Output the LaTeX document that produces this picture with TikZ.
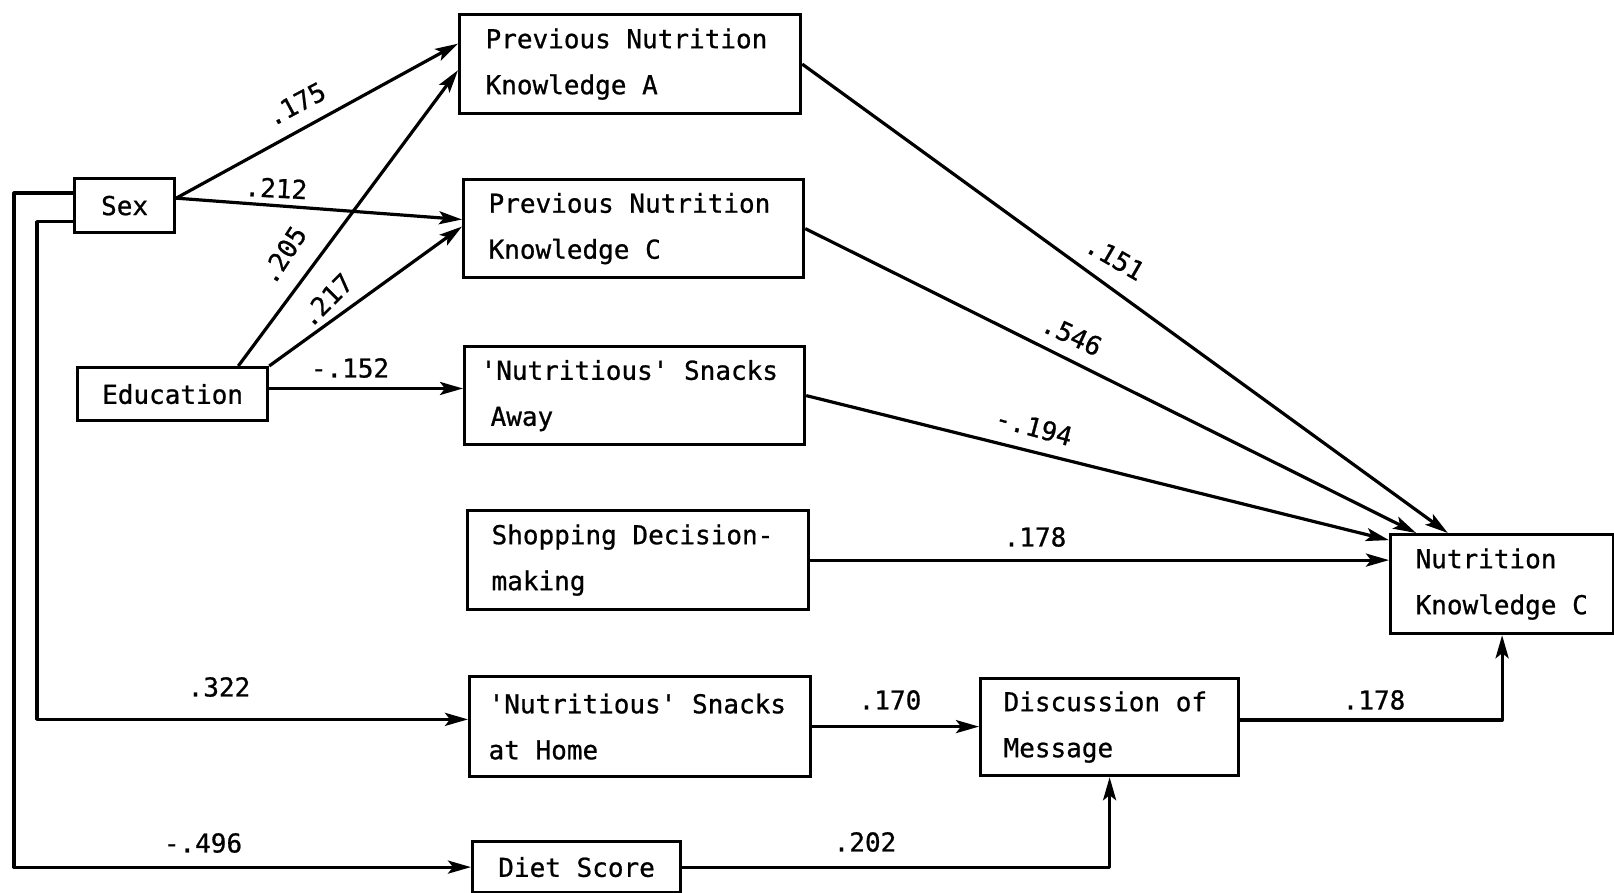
\documentclass[tikz,border=0pt]{standalone}
\usepackage{fontspec}
\newfontfamily\typefont[WordSpace={1,0,0},FakeBold=0.8]{DejaVu Sans Mono}
\usetikzlibrary{arrows.meta,calc}
\begin{document}
\begin{tikzpicture}[x=1pt,y=-1pt,
  txt/.style={font=\typefont\fontsize{26pt}{46pt}\selectfont},
  box/.style={txt, draw, line width=3.2pt, rectangle, anchor=north west,
    inner ysep=0pt},
  multi/.style={box, align=flush left},
  single/.style={box, align=center, inner xsep=0pt},
  lab/.style={txt, inner sep=0pt},
  conn/.style={line width=3.2pt, line join=round,
    -{Stealth[length=23pt,width=13pt,inset=5pt]}}]
\useasboundingbox (0,0) rectangle (1614,893);

% boxes
\node[single, minimum width=100pt, minimum height=54pt] (sex) at (73,177) {Sex};
\node[single, minimum width=190pt, minimum height=53pt] (edu) at (76,366) {Education};
\node[multi, minimum width=341pt, minimum height=99pt, inner xsep=26pt, text width=289pt]
  (pnka) at (458,13) {Previous Nutrition\\Knowledge A};
\node[multi, minimum width=340pt, minimum height=98pt, inner xsep=25pt, text width=290pt]
  (pnkc) at (462,178) {Previous Nutrition\\Knowledge C};
\node[multi, minimum width=340pt, minimum height=98pt, inner xsep=16pt, text width=308pt]
  (away) at (463,345) {\textquotesingle Nutritious\textquotesingle{} Snacks\\\hspace*{10pt}Away};
\node[multi, minimum width=341pt, minimum height=99pt, inner xsep=24pt, text width=293pt]
  (shop) at (466,509) {Shopping Decision-\\making};
\node[multi, minimum width=341pt, minimum height=100pt, inner xsep=19pt, text width=303pt]
  (home) at (468,675) {\textquotesingle Nutritious\textquotesingle{} Snacks\\at Home};
\node[multi, minimum width=258pt, minimum height=97pt, inner xsep=23pt, text width=212pt]
  (disc) at (979,677) {Discussion of\\Message};
\node[multi, minimum width=223pt, minimum height=99pt, inner xsep=25pt, text width=173pt]
  (nk) at (1389,533) {Nutrition\\Knowledge C};
\node[single, minimum width=208pt, minimum height=51pt] (diet) at (471,840) {Diet Score};

% attachment points
\coordinate (sexE) at ($(sex.north east)!0.37!(sex.south east)$);
\coordinate (sexW1) at ($(sex.north west)!0.28!(sex.south west)$);
\coordinate (sexW2) at ($(sex.north west)!0.78!(sex.south west)$);
\coordinate (eduN) at ($(edu.north west)!0.84!(edu.north east)$);
\coordinate (eduE) at ($(edu.north east)!0.40!(edu.south east)$);
\coordinate (homeW) at ($(home.north west)!0.43!(home.south west)$);
\coordinate (discE) at ($(disc.north east)!0.43!(disc.south east)$);
\coordinate (outerX) at (14,0);
\coordinate (innerX) at (37,0);

% connectors from the left
\draw[conn] (sexE) -- ($(pnka.north west)!0.30!(pnka.south west)$);
\draw[conn] (sexE) -- ($(pnkc.north west)!0.41!(pnkc.south west)$);
\draw[conn] (eduN) -- ($(pnka.north west)!0.56!(pnka.south west)$);
\draw[conn] (edu.north east) -- ($(pnkc.north west)!0.48!(pnkc.south west)$);
\draw[conn] (eduE) -- (eduE -| away.west);
\draw[conn] (sexW2) -- (sexW2 -| innerX) -- (innerX |- homeW) -- (homeW);
\draw[conn] (sexW1) -- (sexW1 -| outerX) -- (outerX |- diet.west) -- (diet.west);

% connectors to the outcome
\draw[conn] (pnka.east) -- ($(nk.north west)!0.26!(nk.north east)$);
\draw[conn] (pnkc.east) -- ($(nk.north west)!0.12!(nk.north east)$);
\draw[conn] (away.east) -- ($(nk.north west)!0.07!(nk.south west)$);
\draw[conn] (shop.east) -- (shop.east -| nk.west);
\draw[conn] (home.east) -- (home.east -| disc.west);
\draw[conn] (discE) -| (nk.south);
\draw[conn] (diet.east) -| (disc.south);

% path coefficients
\node[lab, rotate=28] (l175) at (296,104) {.175};
\node[lab, rotate=-3] (l212) at (276,188) {.212};
\node[lab, rotate=57] (l205) at (283,255) {.205};
\node[lab, rotate=45] (l217) at (326,300) {.217};
\node[lab] (l152) at (350,368) {-.152};
\node[lab] (l322) at (219,687) {.322};
\node[lab] (l496) at (203,843) {-.496};
\node[lab, rotate=-30] (l151) at (1115,258) {.151};
\node[lab, rotate=-25] (l546) at (1072,335) {.546};
\node[lab, rotate=-15] (l194) at (1034,427) {-.194};
\node[lab] (l178a) at (1035,537) {.178};
\node[lab] (l170) at (890,700) {.170};
\node[lab] (l178b) at (1374,700) {.178};
\node[lab] (l202) at (865,842) {.202};
\end{tikzpicture}
\end{document}
